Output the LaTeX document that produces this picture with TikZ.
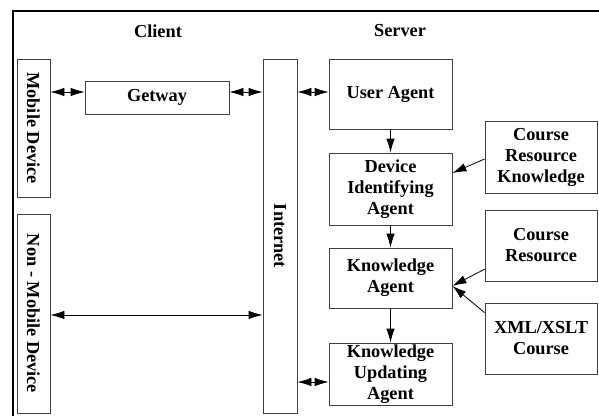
\documentclass[tikz,border=0pt]{standalone}
\usepackage{fontspec}
\setmainfont{Liberation Serif}
\usetikzlibrary{arrows.meta,calc}

\begin{document}
\begin{tikzpicture}[x=1pt,y=-1pt,
            box/.style={rectangle, draw=black!75, line width=0.8pt, inner sep=0pt, align=center, font=\bfseries\fontsize{18.3}{21}\selectfont},
            title/.style={font=\bfseries\fontsize{18.3}{21}\selectfont},
            link/.style={-{Latex[length=14pt,width=8.5pt]}, line width=0.8pt},
            both/.style={{Latex[length=14pt,width=8.5pt]}-{Latex[length=14pt,width=8.5pt]}, line width=0.8pt}]
            \useasboundingbox (0,0) rectangle (599,415);

            % Frame and headings
            \draw[line width=2pt] (13,416) -- (13,11) -- (600,11);
            \node[title] (client) at (158,31) {Client};
            \node[title] (server) at (400,31) {Server};

            % Client side
            \node[box, minimum width=33, minimum height=138] (mobile) at (33.5,128) {\rotatebox{-90}{Mobile Device}};
            \node[box, minimum width=33, minimum height=199] (nonmobile) at (33.5,313.5) {\rotatebox{-90}{Non - Mobile Device}};
            \node[box, minimum width=144, minimum height=33] (getway) at (157,97.5) {Getway};
            \node[box, minimum width=34, minimum height=354] (internet) at (280,236) {\rotatebox{-90}{Internet}};

            % Server side
            \node[box, minimum width=123, minimum height=70] (user) at (390.5,94) {User Agent};
            \node[box, minimum width=123, minimum height=72] (device) at (390.5,189) {Device\\Identifying\\Agent};
            \node[box, minimum width=123, minimum height=60] (know) at (390.5,278) {Knowledge\\Agent};
            \node[box, minimum width=123, minimum height=62] (update) at (390.5,374) {Knowledge\\Updating\\Agent};
            \node[box, minimum width=112, minimum height=72] (crk) at (541,157) {Course\\Resource\\Knowledge};
            \node[box, minimum width=112, minimum height=71] (res) at (541,245.5) {Course\\Resource};
            \node[box, minimum width=112, minimum height=71] (xml) at (541,338.5) {XML/XSLT\\Course};

            % Rows of the two-way links
            \coordinate (row1) at (0,92);
            \coordinate (row2) at (0,315);
            \coordinate (row3) at (0,382);
            \coordinate (devin) at ($(device.north east)!0.28!(device.south east)$);
            \coordinate (knowin) at ($(know.north east)!0.63!(know.south east)$);

            % Links
            \draw[both] (mobile.east |- row1) -- (getway.west |- row1);
            \draw[both] (getway.east |- row1) -- (internet.west |- row1);
            \draw[both] (internet.east |- row1) -- (user.west |- row1);
            \draw[both] (nonmobile.east |- row2) -- (internet.west |- row2);
            \draw[both] (internet.east |- row3) -- (update.west |- row3);
            \draw[link] (user) -- (device);
            \draw[link] (device) -- (know);
            \draw[link] (know) -- (update);
            \draw[link] ($(crk.west)+(0,2)$) -- (devin);
            \draw[link] ($(res.north west)!0.83!(res.south west)$) -- (knowin);
            \draw[link] ($(xml.north west)!0.14!(xml.south west)$) -- (knowin);
        \end{tikzpicture}
\end{document}
